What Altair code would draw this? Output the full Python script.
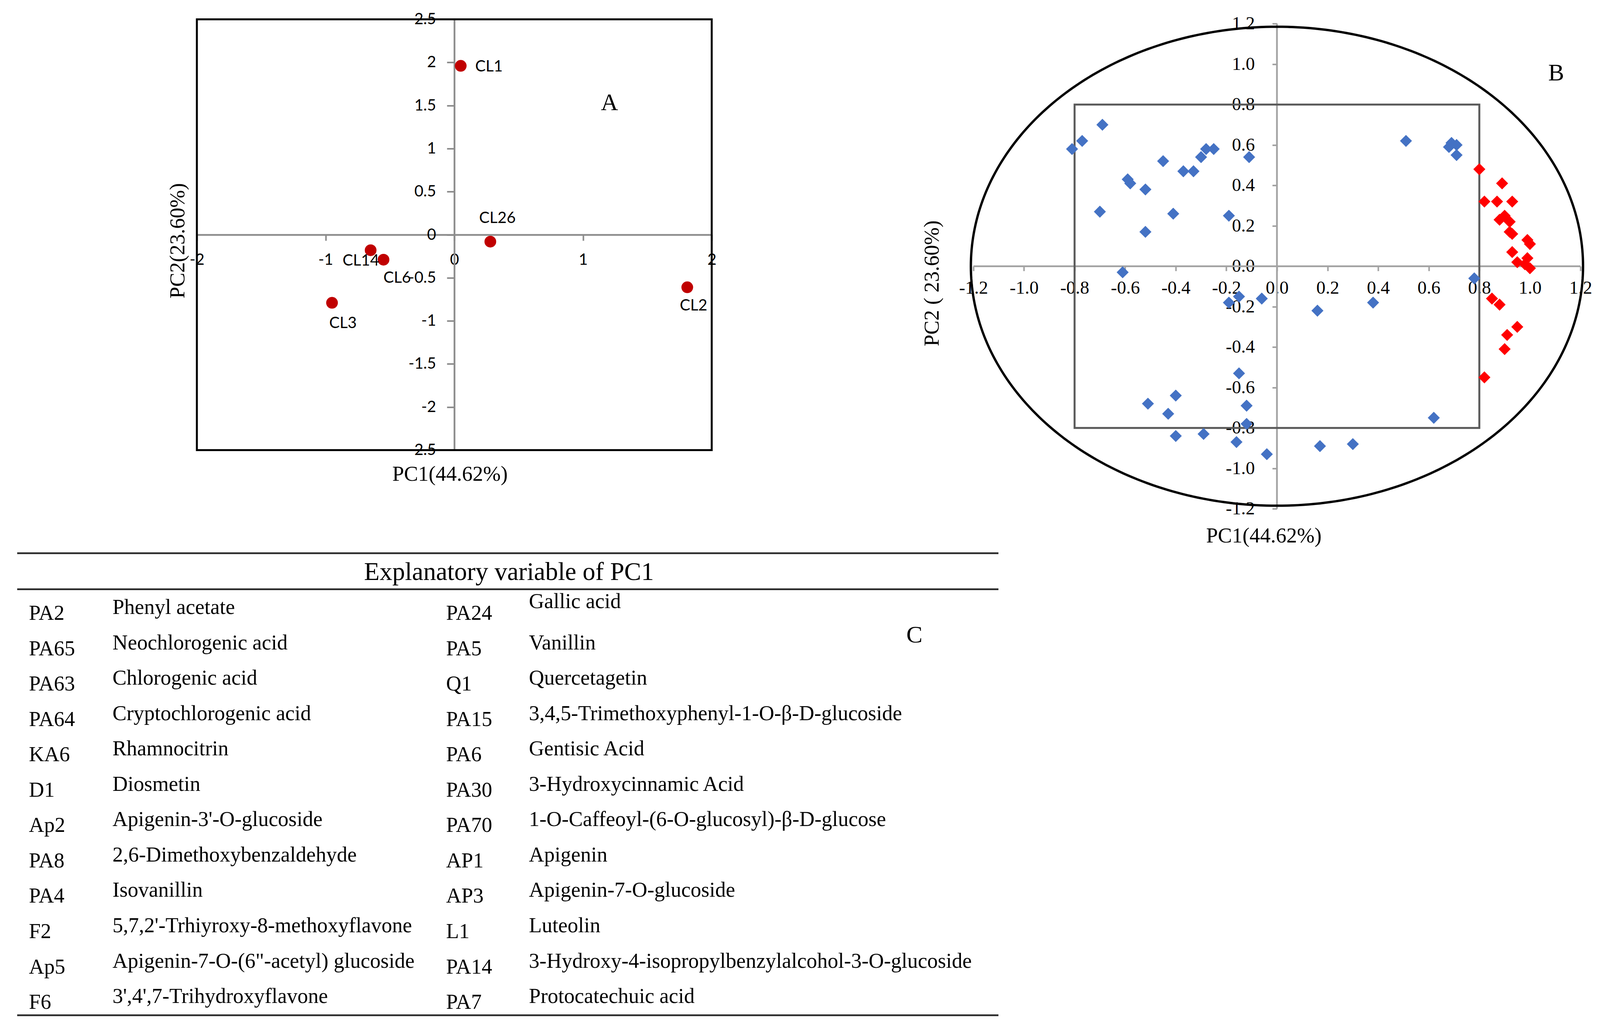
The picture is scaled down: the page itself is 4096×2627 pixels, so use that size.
import altair as alt
import pandas as pd
import numpy as np

# ---------------- Panel A : scores ----------------
a_labels = ["CL1", "CL26", "CL14", "CL6", "CL3", "CL2"]
a_pc1 = [0.05, 0.28, -0.65, -0.55, -0.95, 1.81]
a_pc2 = [1.96, -0.08, -0.18, -0.29, -0.79, -0.61]

# ---------------- Panel B : loadings ----------------
blue_pc1 = [-0.81, -0.77, -0.69, -0.70, -0.61, -0.59, -0.58, -0.52, -0.52, -0.45,
            -0.41, -0.37, -0.33, -0.30, -0.28, -0.25, -0.11, -0.19, -0.19, -0.15,
            -0.06, 0.16, 0.38, 0.51, 0.68, 0.69, 0.71, 0.71, 0.78, -0.15,
            -0.40, -0.51, -0.43, -0.12, -0.12, -0.40, -0.29, -0.16, -0.04, 0.17,
            0.30, 0.62]
blue_pc2 = [0.58, 0.62, 0.70, 0.27, -0.03, 0.43, 0.41, 0.38, 0.17, 0.52,
            0.26, 0.47, 0.47, 0.54, 0.58, 0.58, 0.54, 0.25, -0.18, -0.15,
            -0.16, -0.22, -0.18, 0.62, 0.59, 0.61, 0.60, 0.55, -0.06, -0.53,
            -0.64, -0.68, -0.73, -0.69, -0.78, -0.84, -0.83, -0.87, -0.93, -0.89,
            -0.88, -0.75]
red_pc1 = [0.80, 0.89, 0.82, 0.87, 0.93, 0.88, 0.90, 0.92, 0.92, 0.93, 0.99, 1.00,
           0.93, 0.95, 0.99, 0.98, 1.00, 0.85, 0.88, 0.91, 0.95, 0.90, 0.82]
red_pc2 = [0.48, 0.41, 0.32, 0.32, 0.32, 0.23, 0.25, 0.22, 0.17, 0.16, 0.13, 0.11,
           0.07, 0.02, 0.04, 0.01, -0.01, -0.16, -0.19, -0.34, -0.30, -0.41, -0.55]
circle_rx, circle_ry = 1.21, 1.185
box_b = 0.8

# ---------------- Panel C : table ----------------
table_title = "Explanatory variable of PC1"
left_codes = ["PA2", "PA65", "PA63", "PA64", "KA6", "D1", "Ap2", "PA8", "PA4", "F2", "Ap5", "F6"]
left_names = ["Phenyl acetate", "Neochlorogenic acid", "Chlorogenic acid",
              "Cryptochlorogenic acid", "Rhamnocitrin", "Diosmetin",
              "Apigenin-3'-O-glucoside", "2,6-Dimethoxybenzaldehyde", "Isovanillin",
              "5,7,2'-Trhiyroxy-8-methoxyflavone", "Apigenin-7-O-(6\"-acetyl) glucoside",
              "3',4',7-Trihydroxyflavone"]
right_codes = ["PA24", "PA5", "Q1", "PA15", "PA6", "PA30", "PA70", "AP1", "AP3", "L1", "PA14", "PA7"]
right_names = ["Gallic acid", "Vanillin", "Quercetagetin",
               "3,4,5-Trimethoxyphenyl-1-O-\u03b2-D-glucoside", "Gentisic Acid",
               "3-Hydroxycinnamic Acid", "1-O-Caffeoyl-(6-O-glucosyl)-\u03b2-D-glucose",
               "Apigenin", "Apigenin-7-O-glucoside", "Luteolin",
               "3-Hydroxy-4-isopropylbenzylalcohol-3-O-glucoside", "Protocatechuic acid"]
rule_rows = [-1.883, -0.865, 11.182]

SERIF = "Liberation Serif"
SANS = "Lato"

# whole drawing area (one layered chart, each panel placed by its own scale ranges)
W, H = 4034.5, 2560.5

def hyphen_expr(fmt):
    return "(datum.value < -0.0001 ? '-' : '') + format(abs(datum.value), '" + fmt + "')"

# =============== Panel A ===============
A_L, A_W, A_H = 460, 1318, 1103
a_gray = "#8c8c8c"
a_x0 = A_L + A_W / 2
a_y0 = A_H / 2
a_x_axis = alt.Axis(title="PC1(44.62%)", orient="bottom", offset=a_y0 - H,
                    values=[-2, -1, 0, 1, 2], labelExpr=hyphen_expr("~g"),
                    domainColor=a_gray, domainWidth=4.5, tickColor=a_gray, tickWidth=4,
                    tickSize=15, labelFont=SANS, labelFontSize=40, labelColor="black",
                    labelPadding=49, labelBaseline="middle", labelFlush=False,
                    labelOverlap=False, grid=False,
                    titleFont=SERIF, titleFontSize=54, titleFontWeight="normal",
                    titleColor="black", titleX=1107.5, titleY=613, titleAlign="center",
                    titleBaseline="middle")
a_y_axis = alt.Axis(title="PC2(23.60%)", orient="left", offset=-a_x0,
                    values=[2.5, 2, 1.5, 1, 0.5, 0, -0.5, -1, -1.5, -2, -2.5],
                    labelExpr=hyphen_expr("~g"),
                    domainColor=a_gray, domainWidth=4.5, tickColor=a_gray, tickWidth=4,
                    tickSize=19, labelFont=SANS, labelFontSize=40, labelColor="black",
                    labelPadding=28, labelFlush=False, labelOverlap=False, grid=False,
                    titleFont=SERIF, titleFontSize=54, titleFontWeight="normal",
                    titleColor="black", titleX=-708, titleY=566.5, titleAngle=270,
                    titleAlign="center", titleBaseline="middle")

def ax():
    return alt.X("x:Q", scale=alt.Scale(domain=[-2, 2], range=[A_L, A_L + A_W], nice=False,
                                        zero=False), axis=a_x_axis)

def ay():
    return alt.Y("y:Q", scale=alt.Scale(domain=[-2.5, 2.5], range=[A_H, 0], nice=False,
                                        zero=False), axis=a_y_axis)

a_df = pd.DataFrame({"x": a_pc1, "y": a_pc2, "label": a_labels})
a_box = alt.Chart(pd.DataFrame({"x": [-2], "x2": [2], "y": [-2.5], "y2": [2.5]})).mark_rect(
    fillOpacity=0, stroke="black", strokeWidth=5).encode(x=ax(), x2="x2:Q", y=ay(), y2="y2:Q")
a_pts = alt.Chart(a_df).mark_circle(size=900, color="#C00000", opacity=1).encode(x=ax(), y=ay())

label_style = {
    "CL1": (37, 2, "left"),
    "CL26": (18, -60, "center"),
    "CL14": (-25, 27, "center"),
    "CL6": (35, 47, "center"),
    "CL3": (28, 53, "center"),
    "CL2": (16, 47, "center"),
}
a_lbls = []
for lab in a_labels:
    dx, dy, al = label_style[lab]
    a_lbls.append(
        alt.Chart(a_df).transform_filter(alt.datum.label == lab).mark_text(
            font=SANS, fontSize=40, color="black", dx=dx, dy=dy, align=al, baseline="middle"
        ).encode(x=ax(), y=ay(), text="label:N")
    )
a_tag = alt.Chart(pd.DataFrame({"x": [1.206], "y": [1.528], "t": ["A"]})).mark_text(
    font=SERIF, fontSize=61, color="black", baseline="middle").encode(x=ax(), y=ay(), text="t:N")

panelA = alt.layer(a_box, a_pts, *a_lbls, a_tag)

# =============== Panel B ===============
B_L, B_W, B_H = 2415.5, 1619, 1279
b_ytop = 1.2217
b_gray = "#a3a3a3"
b_ticks = [round(-1.2 + 0.2 * i, 1) for i in range(13)]
b_y0 = b_ytop / (b_ytop + 1.25) * B_H
b_x0 = B_L + B_W / 2
b_x_axis = alt.Axis(title="PC1(44.62%)", orient="bottom", offset=b_y0 - H,
                    values=b_ticks, labelExpr=hyphen_expr(".1f"), domain=False,
                    tickColor=b_gray, tickWidth=4, tickSize=12, labelFont=SERIF,
                    labelFontSize=47, labelColor="black", labelPadding=44,
                    labelBaseline="middle", labelFlush=False, labelOverlap=False, grid=False,
                    titleFont=SERIF, titleFontSize=54, titleFontWeight="normal",
                    titleColor="black", titleX=3191, titleY=1322.5 - b_y0,
                    titleAlign="center", titleBaseline="middle")
b_y_axis = alt.Axis(title="PC2 ( 23.60%)", orient="left", offset=-b_x0,
                    values=b_ticks, labelExpr=hyphen_expr(".1f"), domain=False,
                    tickColor=b_gray, tickWidth=4, tickSize=12, labelFont=SERIF,
                    labelFontSize=47, labelColor="black", labelPadding=45,
                    labelFlush=False, labelOverlap=False, grid=False,
                    titleFont=SERIF, titleFontSize=54, titleFontWeight="normal",
                    titleColor="black", titleX=-883, titleY=675.5,
                    titleAngle=270, titleAlign="center", titleBaseline="middle")

def bx():
    return alt.X("x:Q", scale=alt.Scale(domain=[-1.25, 1.25], range=[B_L, B_L + B_W],
                                        nice=False, zero=False), axis=b_x_axis)

def by():
    return alt.Y("y:Q", scale=alt.Scale(domain=[-1.25, b_ytop], range=[B_H, 0], nice=False,
                                        zero=False), axis=b_y_axis)

b_hline = alt.Chart(pd.DataFrame({"x": [-1.2], "x2": [1.2], "y": [0.0]})).mark_rule(
    color=b_gray, strokeWidth=4.5).encode(x=bx(), x2="x2:Q", y=by())
b_vline = alt.Chart(pd.DataFrame({"x": [0.0], "y": [-1.2], "y2": [1.2]})).mark_rule(
    color=b_gray, strokeWidth=4.5).encode(x=bx(), y=by(), y2="y2:Q")
b_rect = alt.Chart(pd.DataFrame({"x": [-box_b], "x2": [box_b], "y": [-box_b], "y2": [box_b]})).mark_rect(
    fillOpacity=0, stroke="#595959", strokeWidth=5).encode(x=bx(), x2="x2:Q", y=by(), y2="y2:Q")
theta = np.linspace(0, 2 * np.pi, 361)
ell_df = pd.DataFrame({"x": circle_rx * np.cos(theta), "y": circle_ry * np.sin(theta),
                       "i": np.arange(len(theta))})
b_ell = alt.Chart(ell_df).mark_line(color="black", strokeWidth=6).encode(
    x=bx(), y=by(), order="i:Q")
b_blue = alt.Chart(pd.DataFrame({"x": blue_pc1, "y": blue_pc2})).mark_point(
    shape="diamond", filled=True, size=950, color="#4472C4", opacity=1).encode(x=bx(), y=by())
b_red = alt.Chart(pd.DataFrame({"x": red_pc1, "y": red_pc2})).mark_point(
    shape="diamond", filled=True, size=950, color="#FF0000", opacity=1).encode(x=bx(), y=by())
b_tag = alt.Chart(pd.DataFrame({"x": [1.104], "y": [0.954], "t": ["B"]})).mark_text(
    font=SERIF, fontSize=61, color="black", baseline="middle").encode(x=bx(), y=by(), text="t:N")

panelB = alt.layer(b_hline, b_vline, b_rect, b_ell, b_blue, b_red, b_tag)

# =============== Panel C ===============
C_TOP = 1537.5            # baseline of first table row
ROW_STEP = 90.55
# column stops: 0 left edge, 1 code, 2 name, 3 code, 4 centre, 5 name, 6 panel tag, 7 right edge
col_stops = [0, 30, 244, 1098, 1259, 1310, 2297, 2512]

rows = []
for i in range(len(left_codes)):
    rows.append({"row": i, "col": 1, "text": left_codes[i], "kind": "code"})
    rows.append({"row": i, "col": 2, "text": left_names[i], "kind": "name"})
    rows.append({"row": i, "col": 3, "text": right_codes[i], "kind": "code"})
    rows.append({"row": i, "col": 5, "text": right_names[i], "kind": "name"})
c_df = pd.DataFrame(rows)

def cx(field="col:Q"):
    return alt.X(field, scale=alt.Scale(domain=list(range(8)), range=col_stops,
                                        nice=False, zero=False), axis=None)

def cy():
    return alt.Y("row:Q", scale=alt.Scale(domain=[0, 11], range=[C_TOP, C_TOP + 11 * ROW_STEP],
                                          nice=False, zero=False), axis=None)

txt = dict(font=SERIF, fontSize=54, color="black", align="left", baseline="alphabetic")
c_codes = alt.Chart(c_df).transform_filter(alt.datum.kind == "code").mark_text(**txt).encode(
    x=cx(), y=cy(), text="text:N")
c_names = alt.Chart(c_df).transform_filter(
    (alt.datum.kind == "name") & (alt.datum.text != "Gallic acid")).mark_text(dy=-15, **txt).encode(
    x=cx(), y=cy(), text="text:N")
c_gallic = alt.Chart(c_df).transform_filter(alt.datum.text == "Gallic acid").mark_text(
    dy=-30, **txt).encode(x=cx(), y=cy(), text="text:N")
c_rules = alt.Chart(pd.DataFrame({"row": rule_rows, "col": [0] * 3, "col2": [7] * 3})).mark_rule(
    color="#2b2b2b", strokeWidth=4.5).encode(x=cx(), x2="col2:Q", y=cy())
c_title = alt.Chart(pd.DataFrame({"row": [-1.126], "col": [4], "t": [table_title]})).mark_text(
    font=SERIF, fontSize=65, color="black", align="center", baseline="alphabetic").encode(
    x=cx(), y=cy(), text="t:N")
c_tag = alt.Chart(pd.DataFrame({"row": [0.431], "col": [6], "t": ["C"]})).mark_text(
    font=SERIF, fontSize=62, color="black", align="center", baseline="middle").encode(
    x=cx(), y=cy(), text="t:N")

panelC = alt.layer(c_rules, c_title, c_codes, c_names, c_gallic, c_tag)

# =============== whole figure ===============
chart = alt.layer(panelA, panelB, panelC).resolve_scale(
    x="independent", y="independent").resolve_axis(x="independent", y="independent").properties(
    width=W, height=H,
    padding={"left": 33, "top": 21.5, "right": 0, "bottom": 0},
    background="white",
).configure_view(stroke=None)

chart.save("out.html", embed_options={"renderer": "svg", "actions": False})
